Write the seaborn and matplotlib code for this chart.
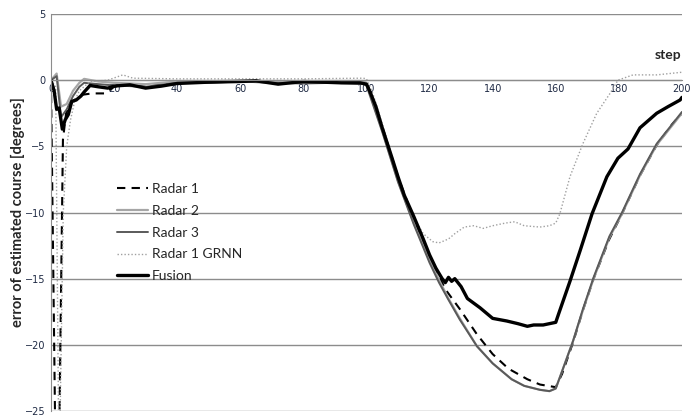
import numpy as np
import pandas as pd
import matplotlib
matplotlib.use("Agg")
import matplotlib.pyplot as plt
import seaborn as sns

# values (step, error in degrees)
fusion_x = [0, 1, 1.8, 2.6, 3.6, 4.5, 5.5, 6.6, 8, 9.5, 10.5, 12.4, 15, 18, 20, 25, 30, 35, 40,
            50, 60, 65, 72, 80, 86, 92, 98, 100, 101, 103, 105, 108, 110, 112, 115, 118, 120,
            122, 124, 125, 126, 127, 128, 130, 132, 136, 140, 144.5, 148, 151, 153, 156, 158,
            160, 161, 164.5, 167.7, 171.5, 176.2, 179.7, 182.9, 186.7, 192, 195.6, 199.4, 200]
fusion_y = [0, -0.8, -2.2, -2.1, -3.7, -3.0, -2.6, -1.6, -1.5, -1.2, -0.9, -0.4, -0.5, -0.6, -0.45,
            -0.35, -0.6, -0.45, -0.25, -0.15, -0.1, -0.05, -0.3, -0.1, -0.15, -0.2, -0.2, -0.3,
            -0.8, -2.0, -3.6, -5.8, -7.3, -8.7, -10.3, -12.0, -13.2, -14.2, -15.0, -15.3, -14.9,
            -15.2, -15.0, -15.6, -16.5, -17.2, -18.0, -18.2, -18.4, -18.6, -18.5, -18.5, -18.4,
            -18.3, -17.6, -15.2, -12.9, -10.1, -7.3, -5.9, -5.2, -3.6, -2.5, -2.0, -1.5, -1.3]

radar23_x = [0, 1.8, 3.2, 5, 7, 9, 10.5, 15, 20, 30, 40, 50, 60, 70, 80, 90, 99, 100, 105, 110,
             115, 120, 123, 126, 129.6, 135, 140, 146, 150, 155, 158, 160, 162, 165.5, 168.6,
             172, 177, 181, 186.7, 192, 197, 200]
radar2_y = [0, 0.5, -2.0, -1.8, -0.8, -0.2, 0.1, -0.1, -0.2, -0.3, -0.1, -0.1, 0, -0.1, -0.1,
            -0.1, -0.1, -0.2, -3.8, -7.6, -10.8, -13.6, -15.1, -16.5, -18.0, -20.1, -21.4,
            -22.6, -23.1, -23.4, -23.5, -23.3, -22.0, -19.7, -17.4, -15.0, -11.9, -10.1, -7.2,
            -4.9, -3.4, -2.5]
radar3_y = [0, 0.3, -2.8, -2.2, -1.2, -0.5, -0.2, -0.3, -0.4, -0.5, -0.2, -0.2, -0.1, -0.2,
            -0.25, -0.2, -0.3, -0.4, -3.9, -7.7, -10.9, -13.8, -15.3, -16.6, -18.1, -20.1,
            -21.4, -22.6, -23.1, -23.4, -23.5, -23.3, -22.0, -19.7, -17.3, -14.9, -11.8, -10.0,
            -7.1, -4.8, -3.3, -2.4]

radar1_x = [0, 1.3, 1.9, 2.7, 3.8, 4.8, 6, 8, 10, 13, 17, 20, 25, 30, 40, 50, 60, 70, 80, 90,
            99, 100, 105, 110, 115, 120, 125, 129.6, 135, 140, 145, 151, 155, 160, 162, 165.5,
            168.6, 172, 177, 181, 186.7, 192, 197, 200]
radar1_y = [0, -25.5, -25.5, -25.5, -4.5, -2.5, -1.8, -1.4, -1.1, -1.0, -1.0, -0.5, -0.4, -0.5,
            -0.2, -0.15, -0.1, -0.15, -0.15, -0.15, -0.2, -0.3, -3.5, -7.3, -10.5, -13.3, -15.8,
            -17.3, -19.2, -20.7, -21.8, -22.6, -23.0, -23.2, -22.2, -19.8, -17.4, -15.0, -12.0,
            -10.1, -7.2, -4.9, -3.3, -2.5]

grnn_x = [0, 1.5, 2.4, 2.9, 3.9, 5, 6.2, 7.6, 9, 12.4, 18, 22.8, 26, 40, 60, 80, 99, 100, 102,
          105, 110, 115, 118, 121, 123, 126, 128, 131, 134, 137, 140, 144, 147, 150, 155, 158,
          160, 161.3, 164.5, 168.6, 173, 177.2, 179.7, 184.5, 192, 196, 200]
grnn_y = [0, -0.5, -25.5, -25.5, -10, -5, -3, -1.5, -0.8, -0.1, 0, 0.4, 0.15, 0.1, 0.1, 0.1,
          0.15, 0.1, -1.0, -3.3, -7.3, -10.4, -11.6, -12.2, -12.3, -12.0, -11.6, -11.1, -11.0,
          -11.2, -11.0, -10.8, -10.7, -11.0, -11.1, -11.0, -10.8, -10.1, -7.3, -4.8, -2.5,
          -1.0, 0, 0.4, 0.4, 0.5, 0.6]

y_ticks = [5, 0, -5, -10, -15, -20, -25]
x_ticks = list(range(0, 201, 20))

sns.set_style("white")
plt.rcParams['font.family'] = ['Lato', 'DejaVu Sans']

fig = plt.figure(figsize=(6.98, 4.17), dpi=100)
ax = fig.add_axes([0.073, 0.0144, 0.904, 0.952])

series = [
    ("Radar 1", radar1_x, radar1_y, dict(color="black", lw=1.5, ls=(0, (4, 3)))),
    ("Radar 2", radar23_x, radar2_y, dict(color="#a6a6a6", lw=1.6)),
    ("Radar 3", radar23_x, radar3_y, dict(color="#5a5a5a", lw=1.4)),
    ("Radar 1 GRNN", grnn_x, grnn_y, dict(color="#a0a0a0", lw=1.0, ls=(0, (1, 1.5)))),
    ("Fusion", fusion_x, fusion_y, dict(color="black", lw=2.4)),
]
for name, xs, ys, style in series:
    df = pd.DataFrame({"step": xs, "err": ys})
    sns.lineplot(data=df, x="step", y="err", ax=ax, label=name, sort=False,
                 estimator=None, **style)

ax.set_xlim(0, 200)
ax.set_ylim(-25, 5)
ax.set_yticks(y_ticks)
ax.set_xticks(x_ticks)
ax.yaxis.grid(True, color="#8c8c8c", lw=1)
ax.xaxis.grid(False)
ax.set_axisbelow(True)

for s in ["top", "right"]:
    ax.spines[s].set_visible(False)
ax.spines["left"].set_color("#8c8c8c")
ax.spines["bottom"].set_color("#8c8c8c")
ax.spines["bottom"].set_position(("data", 0))

ax.tick_params(axis="x", direction="in", length=3, color="#8c8c8c", labelsize=7,
               labelcolor="#1f2a44", pad=3)
ax.tick_params(axis="y", length=3, color="#8c8c8c", labelsize=7, labelcolor="#1f2a44",
               direction="out", pad=1)
for lbl in ax.get_xticklabels() + ax.get_yticklabels():
    lbl.set_family("DejaVu Sans")

ax.set_xlabel("")
ax.set_ylabel("error of estimated course [degrees]", fontsize=10.5, fontweight="bold")
ax.yaxis.set_label_coords(-0.041, 0.5)
ax.text(195.5, 1.9, "step", fontsize=10, fontweight="bold", ha="center", va="center")

leg = ax.legend(loc="upper left", bbox_to_anchor=(0.085, 0.605), frameon=False, fontsize=10,
                handlelength=2.2, handletextpad=0.3, labelspacing=0.7)

fig.savefig("out.png", dpi=100)
